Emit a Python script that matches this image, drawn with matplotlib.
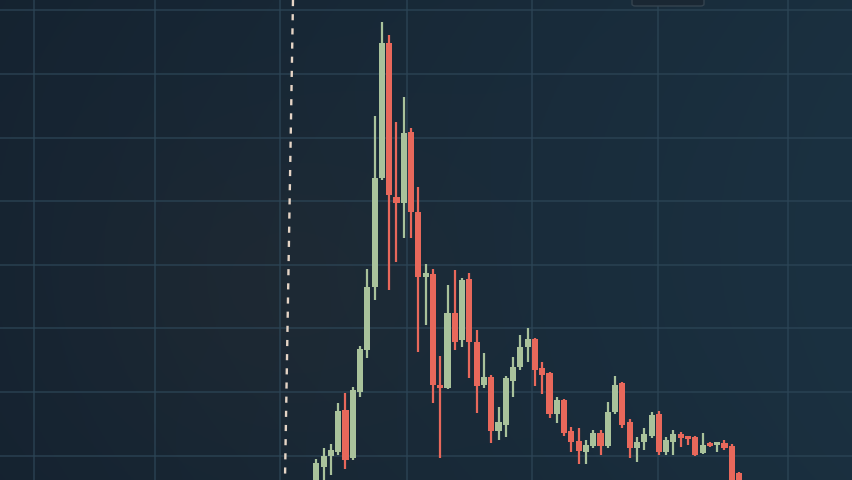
import numpy as np
import matplotlib.pyplot as plt
from matplotlib.patches import FancyBboxPatch

# OHLC, one value per candle
opens = [5.4, 8.3, 10.0, 10.6, 17.2, 9.7, 20.0, 26.6, 36.5, 53.6,
         74.8, 50.7, 49.7, 60.9, 48.3, 38.1, 38.6, 21.1, 20.7, 32.4,
         28.2, 37.8, 27.9, 21.1, 22.4, 13.9, 14.9, 21.8, 24.0, 27.1,
         28.4, 23.8, 23.0, 16.6, 18.8, 13.9, 12.4, 10.6, 11.6, 13.6,
         11.6, 16.9, 21.5, 15.3, 11.3, 12.2, 13.1, 16.6, 10.6, 12.2,
         13.5, 13.0, 13.0, 10.5, 12.0, 11.7, 12.0, 11.6, 7.3]
highs = [9.5, 11.3, 11.9, 18.3, 19.9, 20.8, 27.3, 39.4, 63.4, 78.1,
         76.1, 62.4, 66.4, 61.5, 52.2, 40.1, 39.4, 25.7, 36.8, 39.2,
         37.9, 38.7, 29.8, 26.2, 22.7, 17.7, 22.6, 25.5, 29.0, 30.1,
         28.5, 24.8, 23.2, 19.3, 19.0, 14.6, 14.4, 12.5, 14.1, 14.1,
         18.5, 22.6, 21.6, 15.8, 13.0, 14.4, 16.9, 17.1, 13.0, 14.1,
         13.8, 13.1, 13.1, 13.6, 12.2, 12.2, 12.5, 11.8, 7.5]
lows = [4.7, 5.4, 7.0, 10.2, 8.0, 9.4, 19.3, 25.4, 34.5, 53.3,
        36.1, 40.5, 44.2, 44.2, 26.3, 30.6, 18.3, 9.7, 20.5, 26.6,
        27.1, 22.2, 16.8, 20.7, 12.0, 12.5, 13.0, 19.3, 23.5, 24.8,
        21.0, 19.7, 16.0, 15.2, 13.1, 10.6, 8.7, 8.7, 11.3, 10.2,
        11.3, 16.6, 14.4, 9.7, 9.1, 10.9, 12.8, 10.2, 10.2, 10.2,
        11.4, 11.7, 10.0, 10.3, 11.4, 10.6, 10.9, 5.0, 4.0]
closes = [8.9, 10.0, 10.9, 17.1, 9.4, 20.4, 26.8, 36.5, 53.6, 74.8,
          51.0, 49.7, 60.7, 48.3, 38.1, 38.7, 21.1, 20.7, 32.4, 27.9,
          37.6, 27.9, 21.0, 22.4, 13.9, 15.3, 22.2, 24.0, 27.1, 28.4,
          23.5, 22.7, 16.6, 18.8, 13.6, 12.2, 10.8, 11.7, 13.6, 11.6,
          16.9, 21.1, 14.9, 11.3, 12.2, 13.5, 16.4, 10.6, 12.5, 13.5,
          12.8, 12.7, 10.2, 11.7, 11.6, 12.0, 11.3, 5.4, 4.5]

price_grid = [10, 20, 30, 40, 50, 60, 70, 80]
time_grid = [-38.8, -22.1, -5.0, 12.5, 29.6, 46.9, 64.7]
marker_x = (-3.2, -4.3)   # crosshair, top / bottom (screen is slightly tilted)

green = '#a9c29b'
red = '#e8685b'
xmin, xmax = -43.4, 73.5
ymin, ymax = 6.2, 81.6

fig = plt.figure(figsize=(8.52, 4.8), dpi=100)
ax = fig.add_axes([0, 0, 1, 1])

# dark screen background with a soft gradient
u = np.linspace(0, 1, 300)[None, :]
v = np.linspace(0, 1, 170)[:, None]
left = np.array([22, 36, 50]) / 255
right = np.array([27, 49, 65]) / 255
bg = left + (right - left) * u[..., None] * np.ones_like(v)[..., None]
blob = np.exp(-((u - 0.32) ** 2 / 0.05 + (v - 0.6) ** 2 / 0.12))[..., None]
bg = bg + blob * np.array([6, 1, -3]) / 255
bg = bg * (1 - 0.12 * ((v - 0.5) ** 2)[..., None])
ax.imshow(np.clip(bg, 0, 1), extent=(xmin, xmax, ymin, ymax), aspect='auto', zorder=0)

for p in price_grid:
    ax.axhline(p, color='#2d4657', lw=1.2, alpha=0.75, zorder=1)
for t in time_grid:
    ax.axvline(t, color='#2d4657', lw=1.2, alpha=0.75, zorder=1)

ax.plot(marker_x, [ymax, ymin], color='#e6d5c6', lw=1.7,
        linestyle=(0, (2.6, 3.4)), zorder=2)

o = np.array(opens)
h = np.array(highs)
l = np.array(lows)
c = np.array(closes)
x = np.arange(len(o))
cols = np.where(c >= o, green, red)

ax.vlines(x, l, h, colors=cols, lw=1.6, zorder=3)
body = np.maximum(np.abs(c - o), 0.4)
ax.bar(x, body, bottom=np.minimum(o, c), width=0.84, color=cols, zorder=4)

# edge of a tooltip box peeking in at the top
box = FancyBboxPatch((632 / 852, 474 / 480), 72 / 852, 20 / 480,
                     boxstyle='round,pad=0,rounding_size=0.004',
                     transform=fig.transFigure, facecolor='#1a2733',
                     edgecolor='#34434f', lw=1.0, zorder=5)
fig.patches.append(box)

ax.set_xlim(xmin, xmax)
ax.set_ylim(ymin, ymax)
ax.axis('off')

fig.savefig('out.png', dpi=100)
